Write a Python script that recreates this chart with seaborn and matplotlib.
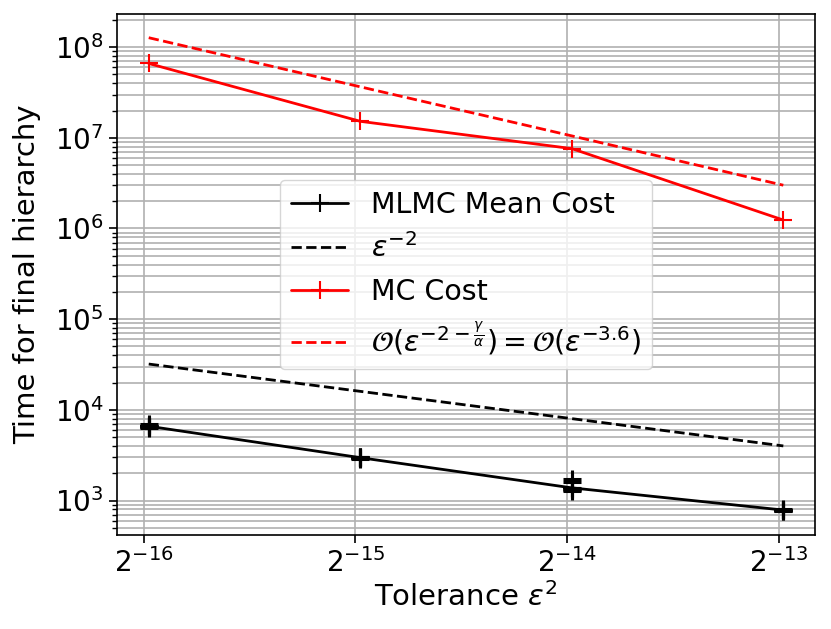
import numpy as np
import pandas as pd
import seaborn as sns
import matplotlib.pyplot as plt
from matplotlib.ticker import LogLocator

# Tolerances (epsilon^2), slightly above the powers of two
tol = [1.55e-5, 3.1e-5, 6.2e-5, 1.24e-4]

# MLMC cost per run, several runs per tolerance
mlmc_runs = [
    [6.3e3, 6.6e3, 6.9e3, 6.5e3, 6.7e3, 6.4e3],
    [2.9e3, 3.0e3, 2.95e3, 3.05e3, 2.92e3, 3.0e3],
    [1.72e3, 1.6e3, 1.3e3, 1.27e3, 1.33e3, 1.36e3],
    [760, 790, 805, 770, 780, 795],
]
mlmc_mean = [6.6e3, 2.97e3, 1.38e3, 785]
eps_m2 = [3.2e4, 1.6e4, 8.0e3, 4.0e3]

mc_cost = [6.6e7, 1.52e7, 7.6e6, 1.24e6]
mc_rate = [1.27e8, 3.65e7, 1.05e7, 3.0e6]

runs = pd.DataFrame({
    "tol": np.repeat(tol, [len(r) for r in mlmc_runs]),
    "cost": np.concatenate(mlmc_runs),
})

sns.set_style("ticks")
plt.rcParams["font.family"] = ["DejaVu Sans"]
plt.rcParams["mathtext.fontset"] = "dejavusans"
plt.rcParams["text.color"] = "black"
plt.rcParams["axes.labelcolor"] = "black"
plt.rcParams["xtick.color"] = "black"
plt.rcParams["ytick.color"] = "black"

fig, ax = plt.subplots(figsize=(8.31, 6.29), dpi=100)
fig.subplots_adjust(left=0.1408, right=0.9808, top=0.9777, bottom=0.1494)

sns.scatterplot(data=runs, x="tol", y="cost", marker="+", color="black",
                s=180, linewidth=2.2, ax=ax, legend=False, zorder=3)
sns.lineplot(x=tol, y=mlmc_mean, color="black", lw=2, marker="+", markersize=13,
             markeredgewidth=1.5, markeredgecolor="black", ax=ax, label="MLMC Mean Cost")
sns.lineplot(x=tol, y=eps_m2, color="black", lw=2, linestyle="--", ax=ax,
             label=r"$\varepsilon^{-2}$")
sns.lineplot(x=tol, y=mc_cost, color="red", lw=2, marker="+", markersize=13,
             markeredgewidth=1.5, markeredgecolor="red", ax=ax, label="MC Cost")
sns.lineplot(x=tol, y=mc_rate, color="red", lw=2, linestyle="--", ax=ax,
             label=r"$\mathcal{O}(\varepsilon^{-2-\frac{\gamma}{\alpha}}) = \mathcal{O}(\varepsilon^{-3.6})$")

ax.set_xscale("log", base=2)
ax.set_yscale("log")
ax.set_xticks([2.0**-16, 2.0**-15, 2.0**-14, 2.0**-13])
ax.xaxis.set_minor_locator(plt.NullLocator())
ax.yaxis.set_major_locator(LogLocator(base=10, numticks=20))
ax.yaxis.set_minor_locator(LogLocator(base=10, subs=np.arange(2, 10), numticks=20))

ax.grid(True, which="major", color="#b0b0b0", lw=1.2)
ax.grid(True, which="minor", axis="y", color="#b0b0b0", lw=1.2)

ax.tick_params(axis="both", which="major", labelsize=20, length=6, width=1.2)
ax.tick_params(axis="y", which="minor", length=3.5, width=1)
ax.set_xlabel(r"Tolerance $\varepsilon^2$", fontsize=21, labelpad=3)
ax.set_ylabel("Time for final hierarchy", fontsize=21, labelpad=10)
for s in ax.spines.values():
    s.set_linewidth(1.2)
    s.set_color("black")

ax.legend(loc="center", fontsize=20.5, framealpha=0.8, handlelength=2)

fig.savefig("out.png", dpi=100)
